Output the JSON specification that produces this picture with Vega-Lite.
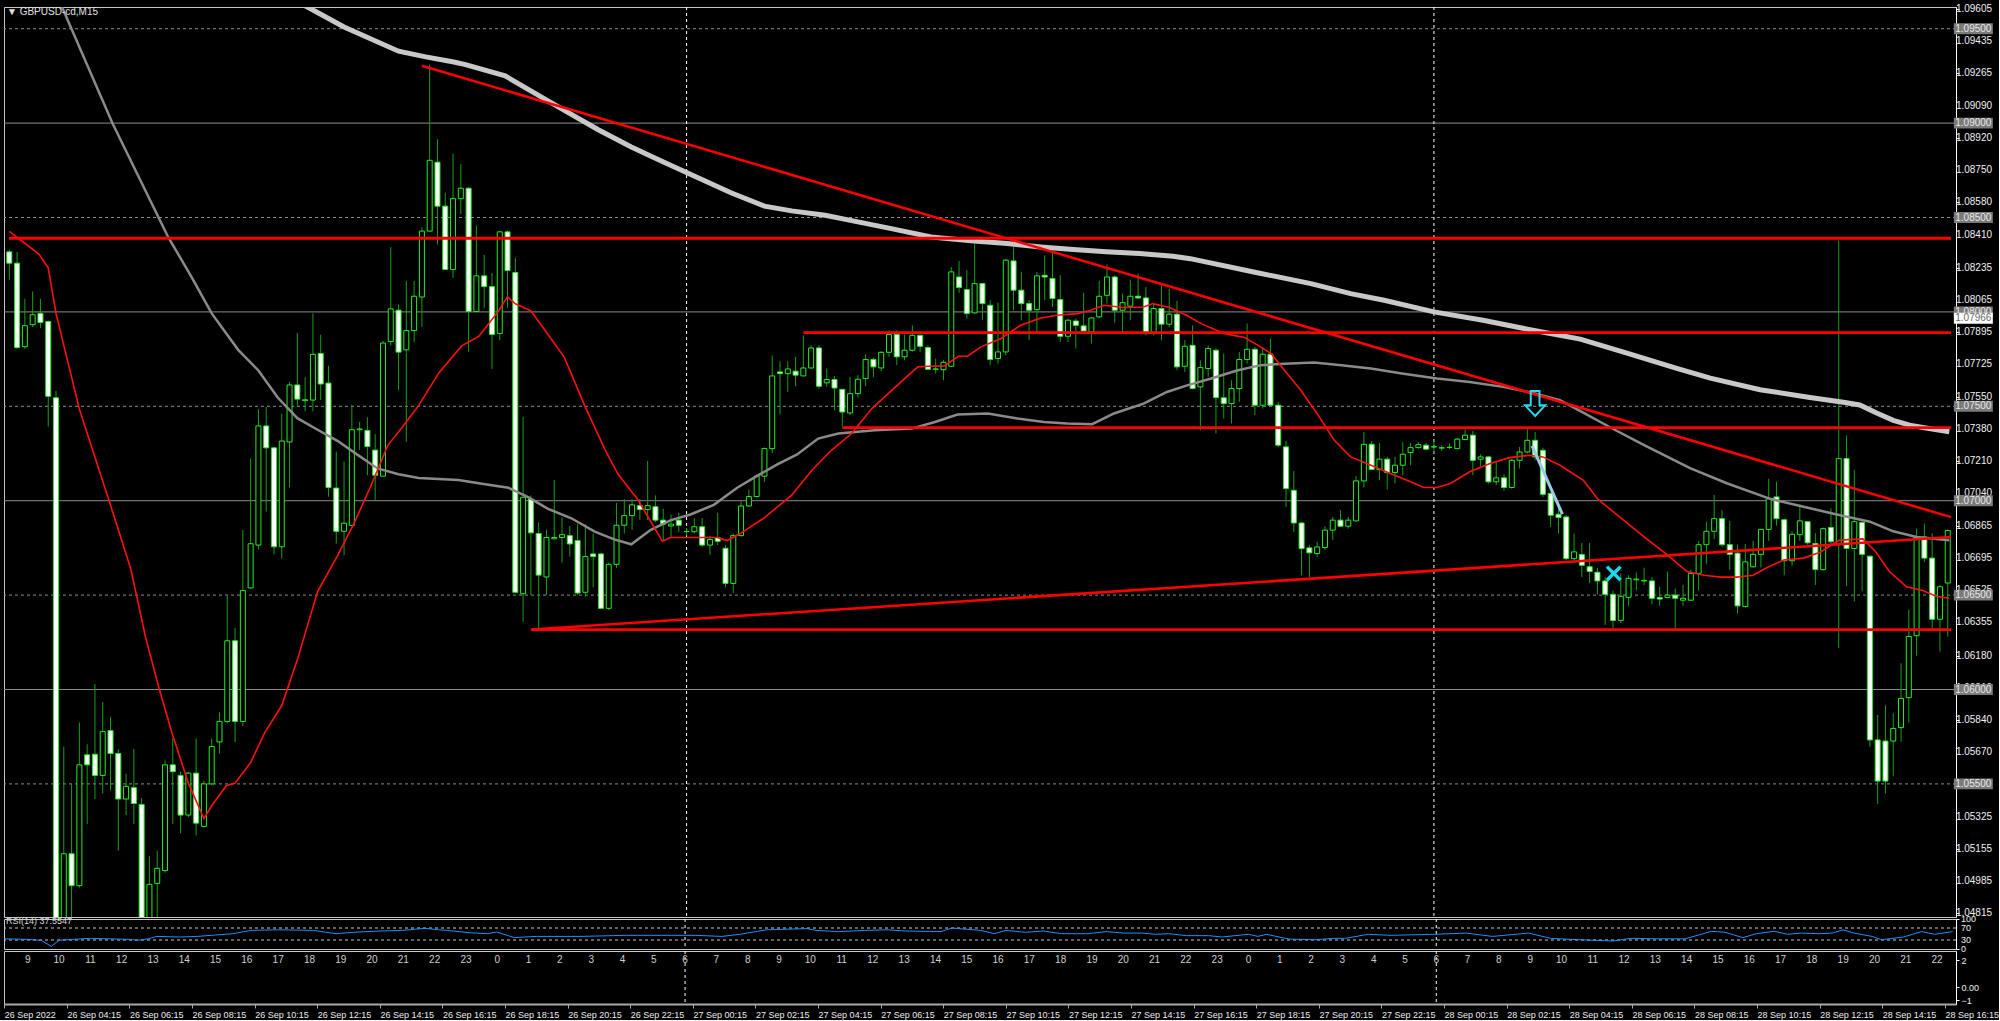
{
"$schema": "https://vega.github.io/schema/vega-lite/v6.json",
"background": "#000000",
"padding": {"left": 3, "top": 3, "right": 0, "bottom": 0},
"spacing": 2,
"bounds": "flush",
"config": {"view": {"stroke": "#c8c8c8", "strokeWidth": 1, "fill": "#000000"}, "font": "Liberation Sans",
 "axis": {"labelOverlap": false, "labelBound": false, "labelFlush": false, "grid": false, "labelFont": "Liberation Sans"}},
"datasets": {
"candles": [
{"i":0,"o":1.08318,"h":1.0833,"l":1.0817,"c":1.08258},{"i":1,"o":1.08258,"h":1.08318,"l":1.07804,"c":1.07811},{"i":2,"o":1.07816,"h":1.0807,"l":1.07804,"c":1.07927},{"i":3,"o":1.07932,"h":1.08108,"l":1.0792,"c":1.07985},{"i":4,"o":1.07992,"h":1.0807,"l":1.07915,"c":1.07944},{"i":5,"o":1.07949,"h":1.07955,"l":1.07393,"c":1.07553},{"i":6,"o":1.07545,"h":1.07582,"l":1.0462,"c":1.0468},{"i":7,"o":1.0468,"h":1.05698,"l":1.0462,"c":1.0513},{"i":8,"o":1.0513,"h":1.055,"l":1.0474,"c":1.04961},{"i":9,"o":1.04961,"h":1.05826,"l":1.0495,"c":1.05601},
{"i":10,"o":1.05654,"h":1.0571,"l":1.05287,"c":1.05601},{"i":11,"o":1.05657,"h":1.06028,"l":1.0542,"c":1.05545},{"i":12,"o":1.05545,"h":1.05932,"l":1.0545,"c":1.05777},{"i":13,"o":1.05782,"h":1.05855,"l":1.05468,"c":1.05661},{"i":14,"o":1.05661,"h":1.05685,"l":1.05147,"c":1.0542},{"i":15,"o":1.0542,"h":1.05553,"l":1.05335,"c":1.05487},{"i":16,"o":1.0548,"h":1.05685,"l":1.05287,"c":1.05396},{"i":17,"o":1.05391,"h":1.05425,"l":1.0468,"c":1.0472},{"i":18,"o":1.0472,"h":1.05118,"l":1.0468,"c":1.04968},{"i":19,"o":1.04973,"h":1.05147,"l":1.0478,"c":1.05053},
{"i":20,"o":1.05041,"h":1.05625,"l":1.0503,"c":1.05601},{"i":21,"o":1.05601,"h":1.05741,"l":1.05287,"c":1.05565},{"i":22,"o":1.05545,"h":1.05565,"l":1.05239,"c":1.05335},{"i":23,"o":1.05335,"h":1.05565,"l":1.05323,"c":1.05557},{"i":24,"o":1.05557,"h":1.05741,"l":1.05227,"c":1.05292},{"i":25,"o":1.05275,"h":1.05517,"l":1.05268,"c":1.055},{"i":26,"o":1.055,"h":1.05741,"l":1.05493,"c":1.05698},{"i":27,"o":1.05722,"h":1.05879,"l":1.05661,"c":1.05831},{"i":28,"o":1.05831,"h":1.06495,"l":1.0582,"c":1.06258},{"i":29,"o":1.06258,"h":1.06326,"l":1.05722,"c":1.05831},
{"i":30,"o":1.05831,"h":1.06845,"l":1.05806,"c":1.06524},{"i":31,"o":1.06538,"h":1.07224,"l":1.06535,"c":1.06772},{"i":32,"o":1.06765,"h":1.07485,"l":1.06741,"c":1.07396},{"i":33,"o":1.07396,"h":1.07497,"l":1.06942,"c":1.0728},{"i":34,"o":1.0728,"h":1.07285,"l":1.06717,"c":1.06756},{"i":35,"o":1.06756,"h":1.07461,"l":1.06693,"c":1.07316},{"i":36,"o":1.07311,"h":1.0763,"l":1.0707,"c":1.07613},{"i":37,"o":1.07613,"h":1.07888,"l":1.07497,"c":1.07538},{"i":38,"o":1.0753,"h":1.07654,"l":1.07473,"c":1.07535},{"i":39,"o":1.07533,"h":1.07992,"l":1.07473,"c":1.07775},
{"i":40,"o":1.0778,"h":1.07879,"l":1.07533,"c":1.07618},{"i":41,"o":1.07623,"h":1.07715,"l":1.07021,"c":1.0707},{"i":42,"o":1.07067,"h":1.0726,"l":1.06772,"c":1.06838},{"i":43,"o":1.06838,"h":1.07207,"l":1.06712,"c":1.06881},{"i":44,"o":1.06869,"h":1.07509,"l":1.06865,"c":1.07376},{"i":45,"o":1.07376,"h":1.07417,"l":1.07268,"c":1.0738},{"i":46,"o":1.07372,"h":1.07442,"l":1.07135,"c":1.07287},{"i":47,"o":1.07268,"h":1.07352,"l":1.07002,"c":1.07135},{"i":48,"o":1.0713,"h":1.07847,"l":1.07128,"c":1.07835},{"i":49,"o":1.07843,"h":1.08343,"l":1.07823,"c":1.08016},
{"i":50,"o":1.08009,"h":1.0804,"l":1.07587,"c":1.07787},{"i":51,"o":1.07799,"h":1.08164,"l":1.07312,"c":1.07901},{"i":52,"o":1.07901,"h":1.08164,"l":1.0784,"c":1.08083},{"i":53,"o":1.08079,"h":1.08448,"l":1.07921,"c":1.08428},{"i":54,"o":1.08428,"h":1.0931,"l":1.08425,"c":1.08803},{"i":55,"o":1.08793,"h":1.08915,"l":1.08357,"c":1.0856},{"i":56,"o":1.0856,"h":1.08631,"l":1.0822,"c":1.08225},{"i":57,"o":1.08225,"h":1.08838,"l":1.0818,"c":1.086},{"i":58,"o":1.086,"h":1.08783,"l":1.08519,"c":1.08655},{"i":59,"o":1.08655,"h":1.0866,"l":1.07789,"c":1.08002},
{"i":60,"o":1.08002,"h":1.08458,"l":1.08,"c":1.08191},{"i":61,"o":1.08191,"h":1.08302,"l":1.08022,"c":1.08134},{"i":62,"o":1.08134,"h":1.08205,"l":1.07698,"c":1.0788},{"i":63,"o":1.07886,"h":1.08428,"l":1.0785,"c":1.08424},{"i":64,"o":1.08424,"h":1.0843,"l":1.08022,"c":1.08219},{"i":65,"o":1.08209,"h":1.08286,"l":1.0651,"c":1.06515},{"i":66,"o":1.06507,"h":1.07444,"l":1.06359,"c":1.07018},{"i":67,"o":1.07008,"h":1.07028,"l":1.06501,"c":1.0683},{"i":68,"o":1.06826,"h":1.06886,"l":1.06318,"c":1.06606},{"i":69,"o":1.06596,"h":1.06846,"l":1.06501,"c":1.06805},
{"i":70,"o":1.06798,"h":1.0711,"l":1.06795,"c":1.06805},{"i":71,"o":1.06805,"h":1.06911,"l":1.06673,"c":1.0682},{"i":72,"o":1.06815,"h":1.06866,"l":1.06704,"c":1.06771},{"i":73,"o":1.06789,"h":1.06876,"l":1.06501,"c":1.06511},{"i":74,"o":1.06515,"h":1.06876,"l":1.06491,"c":1.06704},{"i":75,"o":1.06718,"h":1.06826,"l":1.06542,"c":1.06704},{"i":76,"o":1.06718,"h":1.06724,"l":1.06428,"c":1.0643},{"i":77,"o":1.0643,"h":1.06673,"l":1.0642,"c":1.06663},{"i":78,"o":1.06663,"h":1.06988,"l":1.06643,"c":1.0687},{"i":79,"o":1.0687,"h":1.07008,"l":1.06826,"c":1.06921},
{"i":80,"o":1.06921,"h":1.07008,"l":1.06846,"c":1.06978},{"i":81,"o":1.06974,"h":1.07008,"l":1.06897,"c":1.06953},{"i":82,"o":1.06953,"h":1.07211,"l":1.06897,"c":1.06974},{"i":83,"o":1.06968,"h":1.07028,"l":1.06886,"c":1.06897},{"i":84,"o":1.06897,"h":1.06957,"l":1.06785,"c":1.06876},{"i":85,"o":1.06866,"h":1.06927,"l":1.06805,"c":1.06876},{"i":86,"o":1.06897,"h":1.06937,"l":1.06836,"c":1.0687},{"i":87,"o":1.06836,"h":1.06856,"l":1.06815,"c":1.06837},{"i":88,"o":1.06836,"h":1.06907,"l":1.06826,"c":1.06862},{"i":89,"o":1.06862,"h":1.06907,"l":1.06755,"c":1.06765},
{"i":90,"o":1.06765,"h":1.06815,"l":1.06714,"c":1.06795},{"i":91,"o":1.06805,"h":1.06937,"l":1.06765,"c":1.06785},{"i":92,"o":1.06748,"h":1.06765,"l":1.06542,"c":1.06562},{"i":93,"o":1.06562,"h":1.06826,"l":1.06511,"c":1.06815},{"i":94,"o":1.06815,"h":1.06998,"l":1.0681,"c":1.06972},{"i":95,"o":1.06972,"h":1.07059,"l":1.06968,"c":1.07022},{"i":96,"o":1.07022,"h":1.0714,"l":1.07018,"c":1.0713},{"i":97,"o":1.0713,"h":1.07282,"l":1.071,"c":1.07276},{"i":98,"o":1.07276,"h":1.07769,"l":1.07252,"c":1.07661},{"i":99,"o":1.07682,"h":1.07738,"l":1.07458,"c":1.07673},
{"i":100,"o":1.07673,"h":1.07738,"l":1.07576,"c":1.07698},{"i":101,"o":1.07686,"h":1.07762,"l":1.07606,"c":1.07665},{"i":102,"o":1.07661,"h":1.07876,"l":1.0766,"c":1.07703},{"i":103,"o":1.07703,"h":1.07823,"l":1.077,"c":1.07809},{"i":104,"o":1.07809,"h":1.07823,"l":1.07594,"c":1.07606},{"i":105,"o":1.07624,"h":1.077,"l":1.07603,"c":1.07642},{"i":106,"o":1.07642,"h":1.0766,"l":1.07479,"c":1.07597},{"i":107,"o":1.0759,"h":1.0759,"l":1.07394,"c":1.0747},{"i":108,"o":1.07465,"h":1.07656,"l":1.07453,"c":1.07567},{"i":109,"o":1.07567,"h":1.07665,"l":1.07546,"c":1.07643},
{"i":110,"o":1.07647,"h":1.07776,"l":1.07606,"c":1.07748},{"i":111,"o":1.07748,"h":1.07758,"l":1.07656,"c":1.07709},{"i":112,"o":1.07703,"h":1.07792,"l":1.07687,"c":1.07786},{"i":113,"o":1.07786,"h":1.07903,"l":1.07762,"c":1.0788},{"i":114,"o":1.0788,"h":1.07903,"l":1.07718,"c":1.07762},{"i":115,"o":1.07762,"h":1.0788,"l":1.07744,"c":1.07797},{"i":116,"o":1.07797,"h":1.07929,"l":1.0779,"c":1.07876},{"i":117,"o":1.07876,"h":1.0788,"l":1.07788,"c":1.07818},{"i":118,"o":1.07811,"h":1.07823,"l":1.07691,"c":1.07696},{"i":119,"o":1.07696,"h":1.07753,"l":1.07673,"c":1.07698},
{"i":120,"o":1.07694,"h":1.07744,"l":1.07638,"c":1.07733},{"i":121,"o":1.07712,"h":1.08238,"l":1.0771,"c":1.08212},{"i":122,"o":1.08185,"h":1.0827,"l":1.08101,"c":1.08129},{"i":123,"o":1.08118,"h":1.08221,"l":1.07965,"c":1.07991},{"i":124,"o":1.07995,"h":1.08362,"l":1.07991,"c":1.0815},{"i":125,"o":1.0815,"h":1.08152,"l":1.07956,"c":1.08044},{"i":126,"o":1.08035,"h":1.08062,"l":1.07718,"c":1.07748},{"i":127,"o":1.07753,"h":1.08049,"l":1.07726,"c":1.07788},{"i":128,"o":1.07788,"h":1.08282,"l":1.0777,"c":1.08274},{"i":129,"o":1.0827,"h":1.08344,"l":1.08009,"c":1.08115},
{"i":130,"o":1.08115,"h":1.08212,"l":1.07956,"c":1.08044},{"i":131,"o":1.08044,"h":1.08062,"l":1.0785,"c":1.08009},{"i":132,"o":1.08012,"h":1.08212,"l":1.07894,"c":1.08191},{"i":133,"o":1.08194,"h":1.083,"l":1.08062,"c":1.08185},{"i":134,"o":1.08177,"h":1.08327,"l":1.08026,"c":1.08071},{"i":135,"o":1.08065,"h":1.08194,"l":1.07841,"c":1.07871},{"i":136,"o":1.07871,"h":1.07965,"l":1.07841,"c":1.07956},{"i":137,"o":1.07952,"h":1.07965,"l":1.07806,"c":1.07929},{"i":138,"o":1.07926,"h":1.08101,"l":1.07885,"c":1.07899},{"i":139,"o":1.07894,"h":1.07974,"l":1.07832,"c":1.07968},
{"i":140,"o":1.07974,"h":1.08164,"l":1.07965,"c":1.08083},{"i":141,"o":1.08088,"h":1.08252,"l":1.08044,"c":1.08185},{"i":142,"o":1.08185,"h":1.08194,"l":1.07942,"c":1.08009},{"i":143,"o":1.08009,"h":1.08097,"l":1.07894,"c":1.08049},{"i":144,"o":1.0803,"h":1.08171,"l":1.07956,"c":1.08083},{"i":145,"o":1.08083,"h":1.08203,"l":1.0807,"c":1.08074},{"i":146,"o":1.08074,"h":1.08132,"l":1.07876,"c":1.07885},{"i":147,"o":1.07885,"h":1.08044,"l":1.07876,"c":1.08018},{"i":148,"o":1.08018,"h":1.08141,"l":1.0785,"c":1.07935},{"i":149,"o":1.07935,"h":1.08124,"l":1.0792,"c":1.07988},
{"i":150,"o":1.07988,"h":1.08058,"l":1.07691,"c":1.07709},{"i":151,"o":1.07712,"h":1.0785,"l":1.07682,"c":1.07818},{"i":152,"o":1.07823,"h":1.07929,"l":1.07589,"c":1.07594},{"i":153,"o":1.07603,"h":1.07744,"l":1.07373,"c":1.07705},{"i":154,"o":1.077,"h":1.07823,"l":1.07656,"c":1.07806},{"i":155,"o":1.07797,"h":1.07806,"l":1.07356,"c":1.07546},{"i":156,"o":1.07545,"h":1.07779,"l":1.07435,"c":1.07514},{"i":157,"o":1.07514,"h":1.07638,"l":1.07409,"c":1.07594},{"i":158,"o":1.07594,"h":1.07788,"l":1.07523,"c":1.07748},{"i":159,"o":1.07748,"h":1.07938,"l":1.07726,"c":1.07802},
{"i":160,"o":1.07802,"h":1.07815,"l":1.07453,"c":1.07506},{"i":161,"o":1.07506,"h":1.07815,"l":1.07488,"c":1.07776},{"i":162,"o":1.07776,"h":1.07859,"l":1.07497,"c":1.07506},{"i":163,"o":1.07506,"h":1.07523,"l":1.07285,"c":1.07294},{"i":164,"o":1.07285,"h":1.07317,"l":1.06967,"c":1.07064},{"i":165,"o":1.07055,"h":1.07158,"l":1.06835,"c":1.06882},{"i":166,"o":1.06882,"h":1.06887,"l":1.06605,"c":1.06746},{"i":167,"o":1.0675,"h":1.06764,"l":1.06596,"c":1.06724},{"i":168,"o":1.0672,"h":1.06782,"l":1.06702,"c":1.06755},{"i":169,"o":1.06752,"h":1.06865,"l":1.06738,"c":1.06844},
{"i":170,"o":1.06844,"h":1.06914,"l":1.06791,"c":1.06897},{"i":171,"o":1.06897,"h":1.0695,"l":1.06861,"c":1.06865},{"i":172,"o":1.06865,"h":1.06914,"l":1.06852,"c":1.06897},{"i":173,"o":1.06893,"h":1.0713,"l":1.06888,"c":1.07105},{"i":174,"o":1.07105,"h":1.07364,"l":1.0707,"c":1.07299},{"i":175,"o":1.07299,"h":1.07317,"l":1.07161,"c":1.07165},{"i":176,"o":1.07165,"h":1.07306,"l":1.07108,"c":1.0722},{"i":177,"o":1.0722,"h":1.07232,"l":1.07059,"c":1.07149},{"i":178,"o":1.07149,"h":1.07232,"l":1.07091,"c":1.07188},{"i":179,"o":1.07188,"h":1.07311,"l":1.07135,"c":1.07246},
{"i":180,"o":1.07255,"h":1.07306,"l":1.07188,"c":1.07281},{"i":181,"o":1.07281,"h":1.07311,"l":1.07276,"c":1.07297},{"i":182,"o":1.07294,"h":1.07306,"l":1.07267,"c":1.07273},{"i":183,"o":1.07285,"h":1.0732,"l":1.0725,"c":1.07286},{"i":184,"o":1.0728,"h":1.07294,"l":1.07264,"c":1.07279},{"i":185,"o":1.07282,"h":1.07303,"l":1.07273,"c":1.07283},{"i":186,"o":1.07276,"h":1.07334,"l":1.07273,"c":1.07326},{"i":187,"o":1.07324,"h":1.07379,"l":1.0732,"c":1.07347},{"i":188,"o":1.07347,"h":1.0737,"l":1.07135,"c":1.07214},{"i":189,"o":1.0722,"h":1.07246,"l":1.07183,"c":1.07232},
{"i":190,"o":1.07232,"h":1.07236,"l":1.07091,"c":1.071},{"i":191,"o":1.071,"h":1.07206,"l":1.07082,"c":1.07121},{"i":192,"o":1.07121,"h":1.0714,"l":1.07052,"c":1.0707},{"i":193,"o":1.0707,"h":1.07223,"l":1.07064,"c":1.07214},{"i":194,"o":1.07214,"h":1.07285,"l":1.0717,"c":1.07258},{"i":195,"o":1.07258,"h":1.07379,"l":1.0725,"c":1.0732},{"i":196,"o":1.0732,"h":1.07364,"l":1.07214,"c":1.07232},{"i":197,"o":1.07267,"h":1.07281,"l":1.0702,"c":1.07034},{"i":198,"o":1.07038,"h":1.07047,"l":1.06861,"c":1.06923},{"i":199,"o":1.06928,"h":1.06967,"l":1.06826,"c":1.06911},
{"i":200,"o":1.06914,"h":1.06923,"l":1.06685,"c":1.06693},{"i":201,"o":1.06693,"h":1.06826,"l":1.06685,"c":1.06729},{"i":202,"o":1.06715,"h":1.06777,"l":1.06596,"c":1.06658},{"i":203,"o":1.0665,"h":1.06777,"l":1.06564,"c":1.06625},{"i":204,"o":1.06621,"h":1.06645,"l":1.06504,"c":1.06575},{"i":205,"o":1.06575,"h":1.06595,"l":1.06342,"c":1.06504},{"i":206,"o":1.06504,"h":1.06524,"l":1.06321,"c":1.06366},{"i":207,"o":1.06366,"h":1.06615,"l":1.06352,"c":1.06494},{"i":208,"o":1.06488,"h":1.06605,"l":1.06443,"c":1.06589},{"i":209,"o":1.06581,"h":1.0662,"l":1.06524,"c":1.06585},
{"i":210,"o":1.06575,"h":1.06645,"l":1.06554,"c":1.06578},{"i":211,"o":1.06575,"h":1.06595,"l":1.06453,"c":1.06483},{"i":212,"o":1.06487,"h":1.06544,"l":1.06443,"c":1.06479},{"i":213,"o":1.06487,"h":1.06625,"l":1.06484,"c":1.065},{"i":214,"o":1.065,"h":1.06534,"l":1.06321,"c":1.06483},{"i":215,"o":1.06473,"h":1.06554,"l":1.06443,"c":1.06483},{"i":216,"o":1.06473,"h":1.06635,"l":1.0647,"c":1.06615},{"i":217,"o":1.06615,"h":1.06787,"l":1.06524,"c":1.06767},{"i":218,"o":1.06767,"h":1.06889,"l":1.06666,"c":1.06838},{"i":219,"o":1.06838,"h":1.07031,"l":1.06797,"c":1.06905},
{"i":220,"o":1.06905,"h":1.0695,"l":1.06757,"c":1.06767},{"i":221,"o":1.06767,"h":1.06893,"l":1.06635,"c":1.06716},{"i":222,"o":1.06722,"h":1.06767,"l":1.06402,"c":1.06443},{"i":223,"o":1.0644,"h":1.06771,"l":1.06433,"c":1.06676},{"i":224,"o":1.0665,"h":1.06787,"l":1.06646,"c":1.06716},{"i":225,"o":1.06716,"h":1.06852,"l":1.06646,"c":1.06848},{"i":226,"o":1.06848,"h":1.07116,"l":1.06787,"c":1.0701},{"i":227,"o":1.0702,"h":1.07101,"l":1.06868,"c":1.06905},{"i":228,"o":1.06899,"h":1.06905,"l":1.06605,"c":1.06682},{"i":229,"o":1.06682,"h":1.06838,"l":1.06656,"c":1.06822},
{"i":230,"o":1.0682,"h":1.0698,"l":1.06787,"c":1.06893},{"i":231,"o":1.06889,"h":1.06893,"l":1.06767,"c":1.06777},{"i":232,"o":1.06773,"h":1.06828,"l":1.06554,"c":1.06635},{"i":233,"o":1.06635,"h":1.06858,"l":1.06629,"c":1.06852},{"i":234,"o":1.06858,"h":1.0696,"l":1.06767,"c":1.06783},{"i":235,"o":1.06767,"h":1.08378,"l":1.0622,"c":1.07223},{"i":236,"o":1.07223,"h":1.07345,"l":1.06548,"c":1.06747},{"i":237,"o":1.06747,"h":1.07162,"l":1.06467,"c":1.06889},{"i":238,"o":1.06885,"h":1.06889,"l":1.0652,"c":1.06716},{"i":239,"o":1.06706,"h":1.0671,"l":1.05697,"c":1.05733},
{"i":240,"o":1.05733,"h":1.05865,"l":1.05393,"c":1.05515},{"i":241,"o":1.05727,"h":1.05916,"l":1.0545,"c":1.05515},{"i":242,"o":1.05727,"h":1.05875,"l":1.05541,"c":1.05794},{"i":243,"o":1.05798,"h":1.06139,"l":1.05723,"c":1.05952},{"i":244,"o":1.05957,"h":1.06423,"l":1.05825,"c":1.06281},{"i":245,"o":1.06285,"h":1.06852,"l":1.06179,"c":1.06808},{"i":246,"o":1.06808,"h":1.06879,"l":1.06676,"c":1.06696},{"i":247,"o":1.06696,"h":1.06828,"l":1.06321,"c":1.06372},{"i":248,"o":1.06372,"h":1.06554,"l":1.062,"c":1.06544},{"i":249,"o":1.06564,"h":1.06848,"l":1.0628,"c":1.06842}
],
"maRed": [
{"i":0,"v":1.08427},{"i":3.8,"v":1.08306},{"i":5,"v":1.08234},{"i":6,"v":1.07992},{"i":9,"v":1.07485},{"i":10.7,"v":1.07268},{"i":12.8,"v":1.07002},{"i":15.6,"v":1.0664},{"i":17.5,"v":1.06277},{"i":19.2,"v":1.06012},{"i":20.9,"v":1.0577},{"i":23,"v":1.05504},{"i":25,"v":1.05316},{"i":26,"v":1.05384},{"i":27.9,"v":1.05492},{"i":29,"v":1.05504},{"i":31,"v":1.05613},{"i":32.8,"v":1.0577},{"i":35,"v":1.05915},{"i":37,"v":1.06157},{"i":39.6,"v":1.06519},{"i":42.2,"v":1.06712},{"i":44.3,"v":1.06881},{"i":46.4,"v":1.07074},{"i":48.6,"v":1.07292},{"i":50.7,"v":1.07401},{"i":52.6,"v":1.07505},{"i":55.2,"v":1.07678},{"i":58.1,"v":1.0782},{"i":60.3,"v":1.0787},{"i":62.8,"v":1.08002},{"i":64,"v":1.0808},{"i":65,"v":1.08043},{"i":67,"v":1.08006},{"i":69.2,"v":1.0788},{"i":71.3,"v":1.07759},{"i":73.9,"v":1.07505},{"i":76.5,"v":1.07272},{"i":78.2,"v":1.0714},{"i":80.7,"v":1.07008},{"i":83.9,"v":1.06785},{"i":84.9,"v":1.06805},{"i":88.4,"v":1.06805},{"i":90.9,"v":1.06805},{"i":92.2,"v":1.06789},{"i":93.9,"v":1.06826},{"i":96.9,"v":1.06907},{"i":100.5,"v":1.07029},{"i":103.1,"v":1.07161},{"i":105.6,"v":1.07267},{"i":108.2,"v":1.07356},{"i":110.8,"v":1.07488},{"i":112.9,"v":1.07567},{"i":115,"v":1.07647},{"i":116.7,"v":1.07709},{"i":118,"v":1.07712},{"i":120.1,"v":1.07714},{"i":121.9,"v":1.07765},{"i":123.1,"v":1.07765},{"i":124.8,"v":1.07815},{"i":127.4,"v":1.07859},{"i":129.9,"v":1.07929},{"i":132.5,"v":1.07968},{"i":134.6,"v":1.07982},{"i":137.2,"v":1.07991},{"i":138.9,"v":1.08009},{"i":140.6,"v":1.08035},{"i":143.1,"v":1.08023},{"i":145.7,"v":1.08026},{"i":146.9,"v":1.08044},{"i":149,"v":1.08023},{"i":151.2,"v":1.07982},{"i":153.1,"v":1.07938},{"i":156.1,"v":1.07885},{"i":158.7,"v":1.07864},{"i":160.4,"v":1.07823},{"i":162.1,"v":1.07779},{"i":163.8,"v":1.07691},{"i":165.9,"v":1.07585},{"i":168,"v":1.07461},{"i":170.2,"v":1.0732},{"i":172.3,"v":1.07232},{"i":174.9,"v":1.07188},{"i":177.4,"v":1.07144},{"i":180,"v":1.071},{"i":181.7,"v":1.0707},{"i":183.4,"v":1.0707},{"i":185.1,"v":1.07091},{"i":187.6,"v":1.07153},{"i":190.2,"v":1.07197},{"i":192.7,"v":1.07228},{"i":195.3,"v":1.07241},{"i":197,"v":1.07232},{"i":199.2,"v":1.07188},{"i":202.2,"v":1.07108},{"i":204,"v":1.0701},{"i":207,"v":1.06909},{"i":210,"v":1.06808},{"i":212.9,"v":1.06716},{"i":215.5,"v":1.06625},{"i":217.7,"v":1.06605},{"i":219.8,"v":1.06595},{"i":221.9,"v":1.06595},{"i":224,"v":1.06605},{"i":225.8,"v":1.06646},{"i":227.9,"v":1.06686},{"i":230.5,"v":1.06696},{"i":232.6,"v":1.06727},{"i":235.1,"v":1.06791},{"i":238.1,"v":1.06798},{"i":239.8,"v":1.06727},{"i":241.5,"v":1.06625},{"i":243.7,"v":1.06544},{"i":245.8,"v":1.06524},{"i":247.5,"v":1.06494},{"i":249.2,"v":1.06483}
],
"maGray": [
{"i":0,"v":1.102},{"i":3,"v":1.0992},{"i":6.6,"v":1.09631},{"i":13.3,"v":1.08995},{"i":20.4,"v":1.08397},{"i":23.4,"v":1.08186},{"i":26,"v":1.07992},{"i":29.4,"v":1.07799},{"i":32,"v":1.0769},{"i":34.5,"v":1.07545},{"i":37,"v":1.07437},{"i":39.6,"v":1.07376},{"i":42.2,"v":1.07316},{"i":44.7,"v":1.07244},{"i":47.3,"v":1.07171},{"i":50,"v":1.0714},{"i":52.6,"v":1.0712},{"i":57.7,"v":1.0711},{"i":60.7,"v":1.0709},{"i":64.1,"v":1.07069},{"i":66.7,"v":1.07018},{"i":69.2,"v":1.06957},{"i":72.2,"v":1.06907},{"i":75.2,"v":1.06836},{"i":77.7,"v":1.06795},{"i":79.9,"v":1.06769},{"i":82.4,"v":1.06846},{"i":85,"v":1.06897},{"i":87.5,"v":1.06927},{"i":90.5,"v":1.06978},{"i":93.5,"v":1.07069},{"i":96,"v":1.0713},{"i":98.6,"v":1.07191},{"i":101.2,"v":1.07245},{"i":103.9,"v":1.07329},{"i":106.5,"v":1.07356},{"i":111.2,"v":1.07373},{"i":115.9,"v":1.07382},{"i":118.9,"v":1.07417},{"i":121.8,"v":1.07456},{"i":125.7,"v":1.07462},{"i":129.5,"v":1.07435},{"i":132.9,"v":1.07417},{"i":135.9,"v":1.07409},{"i":139.1,"v":1.07405},{"i":141.9,"v":1.07462},{"i":145.7,"v":1.07514},{"i":148.7,"v":1.07576},{"i":151.4,"v":1.07612},{"i":154.4,"v":1.07647},{"i":157.8,"v":1.07691},{"i":160.8,"v":1.07718},{"i":163.8,"v":1.07726},{"i":167.6,"v":1.07732},{"i":171.1,"v":1.07718},{"i":174.9,"v":1.077},{"i":179.1,"v":1.07673},{"i":183.4,"v":1.07647},{"i":187.6,"v":1.07629},{"i":191.9,"v":1.07603},{"i":195.7,"v":1.07571},{"i":199.2,"v":1.07532},{"i":202,"v":1.0747},{"i":205.8,"v":1.07385},{"i":210,"v":1.07294},{"i":215.9,"v":1.07172},{"i":220.7,"v":1.07091},{"i":226.2,"v":1.0701},{"i":231.3,"v":1.0696},{"i":235.6,"v":1.06919},{"i":239,"v":1.06889},{"i":242,"v":1.06838},{"i":245,"v":1.06808},{"i":249.2,"v":1.06791}
],
"maLight": [
{"i":0,"v":1.104},{"i":30,"v":1.0979},{"i":38.3,"v":1.09615},{"i":43,"v":1.09509},{"i":50,"v":1.09381},{"i":53.5,"v":1.09351},{"i":57.1,"v":1.09324},{"i":58.6,"v":1.0931},{"i":63.7,"v":1.0925},{"i":67.1,"v":1.09168},{"i":71.3,"v":1.09067},{"i":75.6,"v":1.08966},{"i":79.9,"v":1.08874},{"i":84.1,"v":1.08793},{"i":88.4,"v":1.08712},{"i":92.7,"v":1.08631},{"i":97,"v":1.0856},{"i":100.5,"v":1.08535},{"i":104.8,"v":1.08512},{"i":109,"v":1.08477},{"i":113.3,"v":1.08441},{"i":118.4,"v":1.08397},{"i":123.9,"v":1.08376},{"i":128.2,"v":1.08362},{"i":132.5,"v":1.08344},{"i":136.7,"v":1.0833},{"i":140.9,"v":1.08318},{"i":145.2,"v":1.08309},{"i":149.5,"v":1.08295},{"i":151.7,"v":1.08282},{"i":160,"v":1.0821},{"i":167.2,"v":1.0815},{"i":172.3,"v":1.08097},{"i":176.6,"v":1.08062},{"i":183,"v":1.08},{"i":189.3,"v":1.07956},{"i":195.7,"v":1.07903},{"i":201.8,"v":1.07856},{"i":207.9,"v":1.0778},{"i":214.3,"v":1.077},{"i":218.5,"v":1.07649},{"i":224.9,"v":1.07588},{"i":231.3,"v":1.07547},{"i":235.6,"v":1.07521},{"i":237.7,"v":1.07507},{"i":239.8,"v":1.07466},{"i":242,"v":1.07426},{"i":244.1,"v":1.074},{"i":246.2,"v":1.07385},{"i":249.2,"v":1.07365}
],
"rsi": [
{"i":0,"v":34},{"i":3,"v":32},{"i":4.7,"v":29},{"i":6,"v":9},{"i":7,"v":29},{"i":8.7,"v":32},{"i":11,"v":35.6},{"i":13.3,"v":34},{"i":16.1,"v":32},{"i":17,"v":29},{"i":18.4,"v":34},{"i":19.5,"v":42},{"i":22.4,"v":40},{"i":24.7,"v":42},{"i":27,"v":46.7},{"i":29.2,"v":51},{"i":31.5,"v":62},{"i":34.9,"v":64},{"i":39.5,"v":62},{"i":42.4,"v":51},{"i":45.2,"v":56.7},{"i":48.1,"v":60},{"i":50.9,"v":62},{"i":53.8,"v":69},{"i":55.5,"v":64},{"i":56.6,"v":62},{"i":59.5,"v":54},{"i":61.8,"v":51},{"i":62.9,"v":56.7},{"i":65.2,"v":38},{"i":68,"v":42},{"i":73.7,"v":42},{"i":79.5,"v":45.6},{"i":85.1,"v":45.6},{"i":88.3,"v":45.6},{"i":91.7,"v":42},{"i":94,"v":49},{"i":97.4,"v":64},{"i":102.6,"v":68},{"i":103.7,"v":62},{"i":106.6,"v":58},{"i":110,"v":62},{"i":112.8,"v":64},{"i":115.1,"v":60},{"i":119.7,"v":58},{"i":121.1,"v":70},{"i":122.5,"v":66.7},{"i":124.8,"v":62},{"i":126.5,"v":51},{"i":128,"v":62},{"i":130.5,"v":55.6},{"i":132.8,"v":60},{"i":135.1,"v":51},{"i":138.5,"v":51},{"i":140.8,"v":58},{"i":143.1,"v":53},{"i":145.4,"v":53},{"i":147.1,"v":49},{"i":148.8,"v":51},{"i":151.1,"v":44.5},{"i":153.9,"v":44.5},{"i":155.6,"v":40},{"i":159,"v":49},{"i":160.2,"v":42},{"i":161.3,"v":49},{"i":164.2,"v":33},{"i":167.6,"v":31},{"i":169.9,"v":35.6},{"i":171.4,"v":35.6},{"i":174.3,"v":49},{"i":177.1,"v":45.6},{"i":182.8,"v":49},{"i":186.8,"v":53},{"i":190.2,"v":42},{"i":193.1,"v":49},{"i":194.8,"v":53},{"i":197.6,"v":35.6},{"i":201.1,"v":31},{"i":205.6,"v":26.7},{"i":207.9,"v":35.6},{"i":211.3,"v":34},{"i":214.8,"v":34},{"i":218.2,"v":59},{"i":219.9,"v":55.6},{"i":222.2,"v":38},{"i":223.9,"v":51},{"i":226.2,"v":59},{"i":227.9,"v":49},{"i":229.6,"v":53},{"i":231.9,"v":51},{"i":233.6,"v":53},{"i":235,"v":64},{"i":236.4,"v":53},{"i":238.7,"v":42},{"i":239.9,"v":31},{"i":242.7,"v":40},{"i":245,"v":58},{"i":246.7,"v":49},{"i":249,"v":58}
],
"levels": [
{"p":1.095,"k":"dash"},{"p":1.09,"k":"solid"},{"p":1.085,"k":"dash"},{"p":1.08,"k":"solid"},{"p":1.075,"k":"dash"},{"p":1.07,"k":"solid"},{"p":1.065,"k":"dash"},{"p":1.06,"k":"solid"},{"p":1.055,"k":"dash"}
],
"pticks": [
{"p":1.09605},{"p":1.09435},{"p":1.09265},{"p":1.0909},{"p":1.0892},{"p":1.0875},{"p":1.0858},{"p":1.0841},{"p":1.08235},{"p":1.08065},{"p":1.07895},{"p":1.07725},{"p":1.0755},{"p":1.0738},{"p":1.0721},{"p":1.0704},{"p":1.06865},{"p":1.06695},{"p":1.06525},{"p":1.06355},{"p":1.0618},{"p":1.0601},{"p":1.0584},{"p":1.0567},{"p":1.05495},{"p":1.05325},{"p":1.05155},{"p":1.04985},{"p":1.04815}
],
"boxes": [
{"p":1.095,"k":"grid"},{"p":1.09,"k":"grid"},{"p":1.085,"k":"grid"},{"p":1.08,"k":"grid"},{"p":1.07966,"k":"bid"},{"p":1.075,"k":"grid"},{"p":1.07,"k":"grid"},{"p":1.065,"k":"grid"},{"p":1.06,"k":"grid"},{"p":1.055,"k":"grid"}
],
"redlines": [
{"n":"L1","i1":-0.04,"p1":1.0839,"i2":249.42,"p2":1.0839},
{"n":"L2","i1":102,"p1":1.0789,"i2":249.42,"p2":1.0789},
{"n":"L3","i1":107,"p1":1.07387,"i2":249.42,"p2":1.07387},
{"n":"L4","i1":67,"p1":1.06317,"i2":249.42,"p2":1.06317},
{"n":"T1","i1":67.1,"p1":1.06318,"i2":249.42,"p2":1.06808},
{"n":"T2","i1":53,"p1":1.09304,"i2":249.42,"p2":1.06913}
],
"seps": [{"i":87},{"i":183}],
"rsiLevels": [{"v":70},{"v":30}],
"rsiTicks": [{"v":100},{"v":70},{"v":30},{"v":0}],
"trade": [{"i1":195.6,"p1":1.0729,"i2":199.5,"p2":1.06929}],
"arrow": [{"i":196,"p":1.07515}],
"xmark": [{"i":206.1,"p":1.06615}],
"hours": [
{"i":3,"h":"9"},{"i":7,"h":"10"},{"i":11,"h":"11"},{"i":15,"h":"12"},{"i":19,"h":"13"},{"i":23,"h":"14"},{"i":27,"h":"15"},{"i":31,"h":"16"},{"i":35,"h":"17"},{"i":39,"h":"18"},{"i":43,"h":"19"},{"i":47,"h":"20"},{"i":51,"h":"21"},{"i":55,"h":"22"},{"i":59,"h":"23"},{"i":63,"h":"0"},{"i":67,"h":"1"},{"i":71,"h":"2"},{"i":75,"h":"3"},{"i":79,"h":"4"},{"i":83,"h":"5"},{"i":87,"h":"6"},{"i":91,"h":"7"},{"i":95,"h":"8"},{"i":99,"h":"9"},{"i":103,"h":"10"},{"i":107,"h":"11"},{"i":111,"h":"12"},{"i":115,"h":"13"},{"i":119,"h":"14"},{"i":123,"h":"15"},{"i":127,"h":"16"},{"i":131,"h":"17"},{"i":135,"h":"18"},{"i":139,"h":"19"},{"i":143,"h":"20"},{"i":147,"h":"21"},{"i":151,"h":"22"},{"i":155,"h":"23"},{"i":159,"h":"0"},{"i":163,"h":"1"},{"i":167,"h":"2"},{"i":171,"h":"3"},{"i":175,"h":"4"},{"i":179,"h":"5"},{"i":183,"h":"6"},{"i":187,"h":"7"},{"i":191,"h":"8"},{"i":195,"h":"9"},{"i":199,"h":"10"},{"i":203,"h":"11"},{"i":207,"h":"12"},{"i":211,"h":"13"},{"i":215,"h":"14"},{"i":219,"h":"15"},{"i":223,"h":"16"},{"i":227,"h":"17"},{"i":231,"h":"18"},{"i":235,"h":"19"},{"i":239,"h":"20"},{"i":243,"h":"21"},{"i":247,"h":"22"}
]
},
"vconcat": [
{
"width": 1952, "height": 910,
"title": {"text": "▼ GBPUSD-cd,M15", "anchor": "start", "frame": "group", "offset": -13, "dx": 3, "fontSize": 10, "font": "Liberation Sans", "fontWeight": "normal", "color": "#e0e0e0"},
"layer": [
{"data": {"name": "levels"}, "mark": {"type": "rule", "color": "#8c8c8c", "strokeWidth": 1, "clip": true},
 "encoding": {
  "y": {"field": "p", "type": "quantitative", "title": null, "scale": {"domain": [1.04795, 1.09615], "nice": false, "zero": false},
   "axis": {"orient": "right", "values": [1.09605,1.09435,1.09265,1.0909,1.0892,1.0875,1.0858,1.0841,1.08235,1.08065,1.07895,1.07725,1.0755,1.0738,1.0721,1.0704,1.06865,1.06695,1.06525,1.06355,1.0618,1.0601,1.0584,1.0567,1.05495,1.05325,1.05155,1.04985,1.04815], "labels": false, "tickColor": "#ffffff", "tickSize": 3, "domainColor": "#ffffff", "grid": false, "title": null}},
  "strokeDash": {"field": "k", "type": "nominal", "scale": {"domain": ["solid", "dash"], "range": [[1, 0], [3, 3]]}, "legend": null}}},
{"data": {"name": "seps"}, "mark": {"type": "rule", "color": "#ffffff", "strokeDash": [3, 3], "clip": true},
 "encoding": {"x": {"field": "i", "type": "quantitative", "scale": {"domain": [-0.0383, 249.42], "nice": false, "zero": false}, "axis": null}}},
{"data": {"name": "candles"}, "mark": {"type": "rule", "color": "#14a014", "strokeWidth": 1, "clip": true},
 "encoding": {
  "x": {"field": "i", "type": "quantitative", "scale": {"domain": [-0.0383, 249.42], "nice": false, "zero": false}, "axis": null},
  "y": {"field": "l", "type": "quantitative", "title": null, "scale": {"domain": [1.04795, 1.09615], "nice": false, "zero": false}},
  "y2": {"field": "h"}}},
{"data": {"name": "candles"}, "mark": {"type": "bar", "width": 5, "stroke": "#22ee22", "strokeWidth": 1, "clip": true},
 "encoding": {
  "x": {"field": "i", "type": "quantitative", "scale": {"domain": [-0.0383, 249.42], "nice": false, "zero": false}, "axis": null},
  "y": {"field": "o", "type": "quantitative", "title": null, "scale": {"domain": [1.04795, 1.09615], "nice": false, "zero": false}},
  "y2": {"field": "c"},
  "fill": {"condition": {"test": "datum.c < datum.o", "value": "#ffffff"}, "value": "#000000"}}},
{"data": {"name": "maLight"}, "mark": {"type": "line", "color": "#c8c8c8", "strokeWidth": 5, "clip": true},
 "encoding": {
  "x": {"field": "i", "type": "quantitative", "scale": {"domain": [-0.0383, 249.42], "nice": false, "zero": false}, "axis": null},
  "y": {"field": "v", "type": "quantitative", "title": null, "scale": {"domain": [1.04795, 1.09615], "nice": false, "zero": false}}}},
{"data": {"name": "maGray"}, "mark": {"type": "line", "color": "#8a8a8a", "strokeWidth": 2.5, "clip": true},
 "encoding": {
  "x": {"field": "i", "type": "quantitative", "scale": {"domain": [-0.0383, 249.42], "nice": false, "zero": false}, "axis": null},
  "y": {"field": "v", "type": "quantitative", "title": null, "scale": {"domain": [1.04795, 1.09615], "nice": false, "zero": false}}}},
{"data": {"name": "maRed"}, "mark": {"type": "line", "color": "#ff1010", "strokeWidth": 1.6, "clip": true},
 "encoding": {
  "x": {"field": "i", "type": "quantitative", "scale": {"domain": [-0.0383, 249.42], "nice": false, "zero": false}, "axis": null},
  "y": {"field": "v", "type": "quantitative", "title": null, "scale": {"domain": [1.04795, 1.09615], "nice": false, "zero": false}}}},
{"data": {"name": "redlines"}, "mark": {"type": "rule", "color": "#ff0000", "clip": true},
 "encoding": {
  "x": {"field": "i1", "type": "quantitative", "scale": {"domain": [-0.0383, 249.42], "nice": false, "zero": false}, "axis": null},
  "x2": {"field": "i2"},
  "y": {"field": "p1", "type": "quantitative", "title": null, "scale": {"domain": [1.04795, 1.09615], "nice": false, "zero": false}},
  "y2": {"field": "p2"},
  "strokeWidth": {"field": "n", "type": "nominal", "scale": {"domain": ["L1", "L2", "L3", "L4", "T1", "T2"], "range": [3, 2.5, 3, 2, 2, 3]}, "legend": null}}},
{"data": {"name": "trade"}, "mark": {"type": "rule", "color": "#9ccbe8", "strokeWidth": 3, "clip": true},
 "encoding": {
  "x": {"field": "i1", "type": "quantitative", "scale": {"domain": [-0.0383, 249.42], "nice": false, "zero": false}, "axis": null},
  "x2": {"field": "i2"},
  "y": {"field": "p1", "type": "quantitative", "title": null, "scale": {"domain": [1.04795, 1.09615], "nice": false, "zero": false}},
  "y2": {"field": "p2"}}},
{"data": {"name": "arrow"}, "mark": {"type": "point", "shape": "M-0.35,-1L0.35,-1L0.35,0.15L0.8,0.15L0,1L-0.8,0.15L-0.35,0.15Z", "size": 625, "filled": false, "stroke": "#2ad8f0", "strokeWidth": 2, "opacity": 1},
 "encoding": {
  "x": {"field": "i", "type": "quantitative", "scale": {"domain": [-0.0383, 249.42], "nice": false, "zero": false}, "axis": null},
  "y": {"field": "p", "type": "quantitative", "title": null, "scale": {"domain": [1.04795, 1.09615], "nice": false, "zero": false}}}},
{"data": {"name": "xmark"}, "mark": {"type": "point", "shape": "M-1,-0.7L-0.7,-1L0,-0.3L0.7,-1L1,-0.7L0.3,0L1,0.7L0.7,1L0,0.3L-0.7,1L-1,0.7L-0.3,0Z", "size": 256, "filled": true, "color": "#1ad8ee", "opacity": 1},
 "encoding": {
  "x": {"field": "i", "type": "quantitative", "scale": {"domain": [-0.0383, 249.42], "nice": false, "zero": false}, "axis": null},
  "y": {"field": "p", "type": "quantitative", "title": null, "scale": {"domain": [1.04795, 1.09615], "nice": false, "zero": false}}}},
{"data": {"name": "pticks"}, "mark": {"type": "text", "fontSize": 10, "font": "Liberation Sans", "align": "left", "baseline": "middle", "color": "#f0f0f0", "clip": false},
 "encoding": {
  "x": {"datum": 250.05, "type": "quantitative", "scale": {"domain": [-0.0383, 249.42], "nice": false, "zero": false}, "axis": null},
  "y": {"field": "p", "type": "quantitative", "title": null, "scale": {"domain": [1.04795, 1.09615], "nice": false, "zero": false}},
  "text": {"field": "p", "type": "quantitative", "format": ".5f"}}},
{"data": {"name": "boxes"}, "mark": {"type": "point", "shape": "M-1,-0.28H1V0.28H-1Z", "size": 1521, "filled": true, "strokeWidth": 0, "opacity": 1, "clip": false},
 "encoding": {
  "x": {"datum": 252.29, "type": "quantitative", "scale": {"domain": [-0.0383, 249.42], "nice": false, "zero": false}, "axis": null},
  "y": {"field": "p", "type": "quantitative", "title": null, "scale": {"domain": [1.04795, 1.09615], "nice": false, "zero": false}},
  "fill": {"field": "k", "type": "nominal", "scale": {"domain": ["grid", "bid"], "range": ["#7a7a7a", "#ffffff"]}, "legend": null}}},
{"data": {"name": "boxes"}, "mark": {"type": "text", "fontSize": 10, "font": "Liberation Sans", "align": "center", "baseline": "middle", "clip": false},
 "encoding": {
  "x": {"datum": 252.29, "type": "quantitative", "scale": {"domain": [-0.0383, 249.42], "nice": false, "zero": false}, "axis": null},
  "y": {"field": "p", "type": "quantitative", "title": null, "scale": {"domain": [1.04795, 1.09615], "nice": false, "zero": false}},
  "text": {"field": "p", "type": "quantitative", "format": ".5f"},
  "color": {"field": "k", "type": "nominal", "scale": {"domain": ["grid", "bid"], "range": ["#e8e8e8", "#6a6a6a"]}, "legend": null}}}
]
},
{
"width": 1952, "height": 30,
"title": {"text": "RSI(14) 37.5547", "anchor": "start", "frame": "group", "offset": -11, "dx": 2, "fontSize": 9, "font": "Liberation Sans", "fontWeight": "normal", "color": "#d8d8d8"},
"layer": [
{"data": {"name": "rsiLevels"}, "mark": {"type": "rule", "color": "#c8c8c8", "strokeDash": [3, 3], "strokeWidth": 1},
 "encoding": {
  "y": {"field": "v", "type": "quantitative", "title": null, "scale": {"domain": [0, 100], "nice": false, "zero": false},
   "axis": {"orient": "right", "values": [0, 30, 70, 100], "labels": false, "tickColor": "#ffffff", "tickSize": 3, "domainColor": "#ffffff", "grid": false, "title": null}}}},
{"data": {"name": "seps"}, "mark": {"type": "rule", "color": "#ffffff", "strokeDash": [3, 3]},
 "encoding": {"x": {"field": "i", "type": "quantitative", "scale": {"domain": [-0.0383, 249.42], "nice": false, "zero": false}, "axis": null}}},
{"data": {"name": "rsi"}, "mark": {"type": "line", "color": "#1e90ff", "strokeWidth": 1, "clip": true},
 "encoding": {
  "x": {"field": "i", "type": "quantitative", "scale": {"domain": [-0.0383, 249.42], "nice": false, "zero": false}, "axis": null},
  "y": {"field": "v", "type": "quantitative", "title": null, "scale": {"domain": [0, 100], "nice": false, "zero": false}}}},
{"data": {"name": "rsiTicks"}, "mark": {"type": "text", "fontSize": 9, "font": "Liberation Sans", "align": "left", "baseline": "middle", "color": "#f0f0f0", "clip": false},
 "encoding": {
  "x": {"datum": 250.05, "type": "quantitative", "scale": {"domain": [-0.0383, 249.42], "nice": false, "zero": false}, "axis": null},
  "y": {"field": "v", "type": "quantitative", "title": null, "scale": {"domain": [0, 100], "nice": false, "zero": false}},
  "text": {"field": "v", "type": "quantitative"}}}
]
},
{
"width": 1952, "height": 53,
"layer": [
{"data": {"name": "seps"}, "mark": {"type": "rule", "color": "#ffffff", "strokeDash": [3, 3]},
 "encoding": {"x": {"field": "i", "type": "quantitative", "title": null, "scale": {"domain": [-0.0383, 249.42], "nice": false, "zero": false}}}},
{"data": {"name": "hours"}, "mark": {"type": "text", "fontSize": 10, "font": "Liberation Sans", "align": "center", "baseline": "middle", "color": "#cfcfcf"},
 "encoding": {
  "x": {"field": "i", "type": "quantitative", "title": null, "scale": {"domain": [-0.0383, 249.42], "nice": false, "zero": false},
   "axis": {"orient": "bottom", "values": [0,8,16,24,32,40,48,56,64,72,80,88,96,104,112,120,128,136,144,152,160,168,176,184,192,200,208,216,224,232,240,248],
    "labelExpr": "['26 Sep 2022','26 Sep 04:15','26 Sep 06:15','26 Sep 08:15','26 Sep 10:15','26 Sep 12:15','26 Sep 14:15','26 Sep 16:15','26 Sep 18:15','26 Sep 20:15','26 Sep 22:15','27 Sep 00:15','27 Sep 02:15','27 Sep 04:15','27 Sep 06:15','27 Sep 08:15','27 Sep 10:15','27 Sep 12:15','27 Sep 14:15','27 Sep 16:15','27 Sep 18:15','27 Sep 20:15','27 Sep 22:15','28 Sep 00:15','28 Sep 02:15','28 Sep 04:15','28 Sep 06:15','28 Sep 08:15','28 Sep 10:15','28 Sep 12:15','28 Sep 14:15','28 Sep 16:15'][round(datum.value/8)]",
    "labelAlign": "left", "labelColor": "#ececec", "labelFont": "Liberation Sans", "labelFontSize": 9, "tickColor": "#a8a8a8", "tickSize": 4, "domainColor": "#a8a8a8", "domainWidth": 2, "labelPadding": 2, "labelOverlap": false, "labelBound": false, "labelFlush": false, "grid": false, "title": null}},
  "y": {"datum": 2, "type": "quantitative", "scale": {"domain": [-1.26, 2.67], "nice": false, "zero": false},
   "axis": {"orient": "right", "values": [2, 0, -1], "labelExpr": "datum.value == 0 ? '0.00' : datum.label", "labelColor": "#f0f0f0", "labelFont": "Liberation Sans", "labelFontSize": 9, "tickColor": "#ffffff", "tickSize": 3, "domainColor": "#ffffff", "labelPadding": 2, "grid": false, "labelOverlap": false, "labelBound": false, "labelFlush": false, "title": null}},
  "text": {"field": "h", "type": "nominal"}}}
]
}
]
}
